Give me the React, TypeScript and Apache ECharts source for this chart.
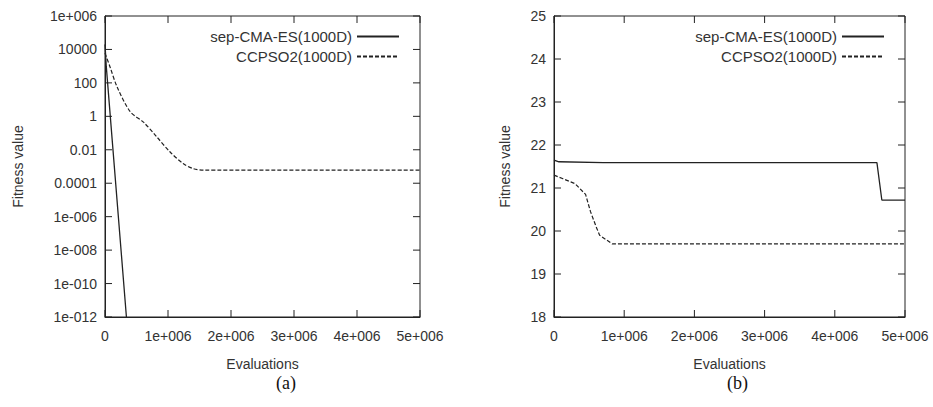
import { useEffect, useRef } from "react";
import * as echarts from "echarts";

// panel (a): log-scale fitness
const cmaA: [number, number][] = [
  [0, 20000],
  [20000, 1000],
  [340000, 1e-12],
];
const psoA: [number, number][] = [
  [0, 6000],
  [80000, 900],
  [190000, 60],
  [400000, 1.9],
  [610000, 0.45],
  [820000, 0.06],
  [1030000, 0.0076],
  [1240000, 0.0015],
  [1400000, 0.00075],
  [1560000, 0.0006],
  [5000000, 0.0006],
];
// panel (b): linear fitness
const cmaB: [number, number][] = [
  [0, 21.65],
  [70000, 21.61],
  [700000, 21.59],
  [4600000, 21.59],
  [4670000, 20.72],
  [5000000, 20.72],
];
const psoB: [number, number][] = [
  [0, 21.3],
  [120000, 21.22],
  [300000, 21.1],
  [450000, 20.85],
  [520000, 20.45],
  [600000, 20.1],
  [650000, 19.9],
  [740000, 19.8],
  [830000, 19.7],
  [5000000, 19.7],
];
const logLabels: Record<string, string> = {
  "-12": "1e-012",
  "-10": "1e-010",
  "-8": "1e-008",
  "-6": "1e-006",
  "-4": "0.0001",
  "-2": "0.01",
  "0": "1",
  "2": "100",
  "4": "10000",
  "6": "1e+006",
};
const xTicks = [0, 1e6, 2e6, 3e6, 4e6, 5e6];
const seriesNames = ["sep-CMA-ES(1000D)", "CCPSO2(1000D)"];

const FONT = "Liberation Sans";
const TXT = "#333";
const LINE = "#222";

const xFmt = (v: number) => (v === 0 ? "0" : `${v / 1e6}e+006`);
const label = () => ({ color: TXT, fontFamily: FONT, fontSize: 14 });

interface PanelCfg {
  gridLeft: number;
  gridWidth: number;
  yMin: number;
  yMax: number;
  yInt: number;
  nameGap: number;
  cma: number[][];
  pso: number[][];
  smooth: number;
  yFmt?: (v: number) => string;
  caption: string;
  captionLeft: number;
}

function Panel({ cfg }: { cfg: PanelCfg }) {
  const ref = useRef<HTMLDivElement>(null);
  useEffect(() => {
    if (!ref.current) return;
    const chart = echarts.init(ref.current, undefined, { renderer: "svg" });
    const option: any = {
      animation: false,
      grid: { left: cfg.gridLeft, top: 16, width: cfg.gridWidth, height: 301 },
      xAxis: {
        type: "value", min: 0, max: 5e6, interval: 1e6,
        name: "Evaluations", nameLocation: "middle", nameGap: 40, nameTextStyle: label(),
        axisLine: { show: true, onZero: false, lineStyle: { color: LINE } },
        axisTick: { show: false }, splitLine: { show: false },
        axisLabel: { ...label(), formatter: xFmt, margin: 12 },
      },
      yAxis: {
        type: "value", min: cfg.yMin, max: cfg.yMax, interval: cfg.yInt,
        name: "Fitness value", nameLocation: "middle", nameGap: cfg.nameGap, nameTextStyle: label(),
        axisLine: { show: true, onZero: false, lineStyle: { color: LINE } },
        axisTick: { show: false }, splitLine: { show: false },
        axisLabel: cfg.yFmt ? { ...label(), formatter: cfg.yFmt } : label(),
      },
      legend: {
        orient: "vertical", right: 466 - (cfg.gridLeft + cfg.gridWidth) + 15, top: 24, align: "right",
        itemWidth: 42, itemHeight: 12, itemGap: 5,
        itemStyle: { opacity: 0 },
        textStyle: { ...label(), fontSize: 15 },
        data: seriesNames,
      },
      series: [
        {
          name: seriesNames[0], type: "line", symbol: "none",
          lineStyle: { color: LINE, width: 1.3 }, itemStyle: { color: LINE },
          data: cfg.cma,
        },
        {
          name: seriesNames[1], type: "line", symbol: "none", smooth: cfg.smooth,
          lineStyle: { color: LINE, width: 1.2, type: [4, 2] }, itemStyle: { color: LINE },
          data: cfg.pso,
        },
      ],
    };
    chart.setOption(option);

    // frame and inward ticks on all four sides, placed through the axes' own scales
    const px = (x: number, y: number) => chart.convertToPixel({ gridIndex: 0 }, [x, y]) as number[];
    const [x0, y0] = px(0, cfg.yMin);
    const [x1, y1] = px(5e6, cfg.yMax);
    const stroke = { stroke: LINE, lineWidth: 1 };
    const els: any[] = [
      { type: "rect", shape: { x: x0, y: y1, width: x1 - x0, height: y0 - y1 }, style: { fill: "none", ...stroke }, silent: true },
    ];
    const L = 7;
    xTicks.forEach((v) => {
      const [x] = px(v, cfg.yMin);
      els.push({ type: "line", shape: { x1: x, y1: y0, x2: x, y2: y0 - L }, style: stroke, silent: true });
      els.push({ type: "line", shape: { x1: x, y1: y1, x2: x, y2: y1 + L }, style: stroke, silent: true });
    });
    for (let v = cfg.yMin; v <= cfg.yMax; v += cfg.yInt) {
      const [, y] = px(0, v);
      els.push({ type: "line", shape: { x1: x0, y1: y, x2: x0 + L, y2: y }, style: stroke, silent: true });
      els.push({ type: "line", shape: { x1: x1, y1: y, x2: x1 - L, y2: y }, style: stroke, silent: true });
    }
    els.push({
      type: "text", left: cfg.captionLeft, top: 374,
      style: { text: cfg.caption, fill: "#111", font: "18px 'Liberation Serif'" },
    });
    chart.setOption({ graphic: els });
    return () => chart.dispose();
  }, [cfg]);
  return <div ref={ref} style={{ width: 466, height: 407 }} />;
}

const cfgA: PanelCfg = {
  gridLeft: 105, gridWidth: 315, yMin: -12, yMax: 6, yInt: 2, nameGap: 80,
  cma: cmaA.map(([x, y]) => [x, Math.log10(y)]),
  pso: psoA.map(([x, y]) => [x, Math.log10(y)]),
  smooth: 0.3, yFmt: (v: number) => logLabels[String(v)] ?? "", caption: "(a)", captionLeft: 276,
};
const cfgB: PanelCfg = {
  gridLeft: 554 - 466, gridWidth: 351, yMin: 18, yMax: 25, yInt: 1, nameGap: 42,
  cma: cmaB, pso: psoB, smooth: 0, caption: "(b)", captionLeft: 727 - 466,
};

export default function App() {
  return (
    <div style={{ position: "absolute", left: 0, top: 0, width: 933, height: 407, background: "#fff", display: "flex" }}>
      <Panel cfg={cfgA} />
      <Panel cfg={cfgB} />
    </div>
  );
}
